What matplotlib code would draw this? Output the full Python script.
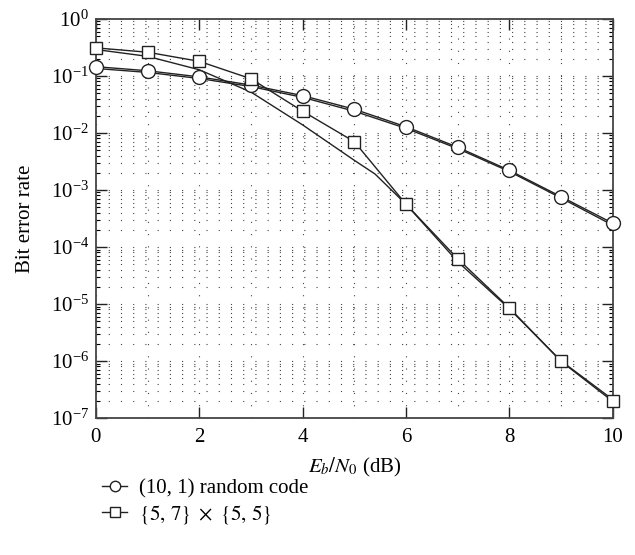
import numpy as np
import matplotlib
matplotlib.use("Agg")
import matplotlib.pyplot as plt
from matplotlib.ticker import LogLocator, NullFormatter, FixedLocator

plt.rcParams['font.family'] = ['Liberation Serif', 'DejaVu Serif']
plt.rcParams['mathtext.fontset'] = 'stix'

# Data
ebn0 = [0, 1, 2, 3, 4, 5, 6, 7, 8, 9, 10]
ber_random = [0.145, 0.123, 0.096, 0.069, 0.045, 0.026, 0.0128, 0.0056, 0.0022, 0.00076, 0.00026]
ber_random_ref = [0.135, 0.115, 0.090, 0.065, 0.042, 0.024, 0.0120, 0.0053, 0.0021, 0.00072, 0.00024]
ber_product = [0.31, 0.26, 0.18, 0.089, 0.024, 0.0070, 0.00056, 6.2e-5, 8.5e-6, 9.8e-7, 1.95e-7]
ebn0_product_ref = [0, 1, 2, 3, 4, 5, 5.4, 6, 7, 8, 9, 10]
ber_product_ref = [0.29, 0.22, 0.128, 0.052, 0.0138, 0.0033, 0.0019, 0.00056, 5.5e-5, 8.2e-6, 1.0e-6, 2.1e-7]

xticks = [0, 2, 4, 6, 8, 10]
label_random = "(10, 1) random code"
label_product = r"$\{5,\,7\}\ \times\ \{5,\,5\}$"

fig = plt.figure(figsize=(6.35, 5.55), dpi=100)
ax = fig.add_axes([0.151, 0.247, 0.814, 0.719])

lc = '#222222'
ax.plot(ebn0, ber_random_ref, '-', color=lc, lw=1.0)
ax.plot(ebn0_product_ref, ber_product_ref, '-', color=lc, lw=1.0)
ax.plot(ebn0, ber_random, '-', color=lc, lw=1.0, marker='o', ms=10,
        mfc='white', mec=lc, mew=1.0, label=label_random, clip_on=False, zorder=5)
ax.plot(ebn0, ber_product, '-', color=lc, lw=1.0, marker='s', ms=9,
        mfc='white', mec=lc, mew=1.0, label=label_product, clip_on=False, zorder=5)

ax.set_yscale('log')
ax.set_xlim(0, 10)
ax.set_ylim(1e-7, 1)
ax.set_xticks(xticks)
ax.set_xticklabels([str(t) for t in xticks])
ax.xaxis.set_minor_locator(FixedLocator([1, 3, 5, 7, 9]))
ax.yaxis.set_major_locator(LogLocator(base=10, numticks=20))
ax.yaxis.set_minor_locator(LogLocator(base=10, subs=np.arange(2, 10), numticks=100))
ax.yaxis.set_minor_formatter(NullFormatter())

grid_kw = dict(color='#444444', linewidth=0.8, linestyle=(0, (1, 10)))
ax.grid(True, which='both', axis='y', **grid_kw)
ax.grid(True, which='both', axis='x', **grid_kw)
ax.set_axisbelow(True)

ax.tick_params(axis='both', which='major', direction='in', top=True, right=True,
               length=8, width=1.0, labelsize=15, color='#222222')
ax.tick_params(axis='y', which='minor', direction='in', right=True, left=True,
               length=3, width=0.8)
ax.tick_params(axis='x', which='minor', length=0)
ax.tick_params(axis='x', which='major', pad=7)
ax.tick_params(axis='y', which='major', pad=5)

for s in ax.spines.values():
    s.set_linewidth(1.3)
    s.set_color('#444444')

ax.set_xlabel(r"$E_b/N_0$ (dB)", fontsize=15, labelpad=7)
ax.set_ylabel("Bit error rate", fontsize=15, labelpad=11)

handles, labels = ax.get_legend_handles_labels()
fig.legend(handles, labels, loc='upper left', bbox_to_anchor=(0.148, 0.152),
           frameon=False, fontsize=15, handlelength=1.2, handletextpad=0.55,
           labelspacing=0.2, markerscale=0.75, borderaxespad=0)

fig.savefig("out.png", dpi=100)
